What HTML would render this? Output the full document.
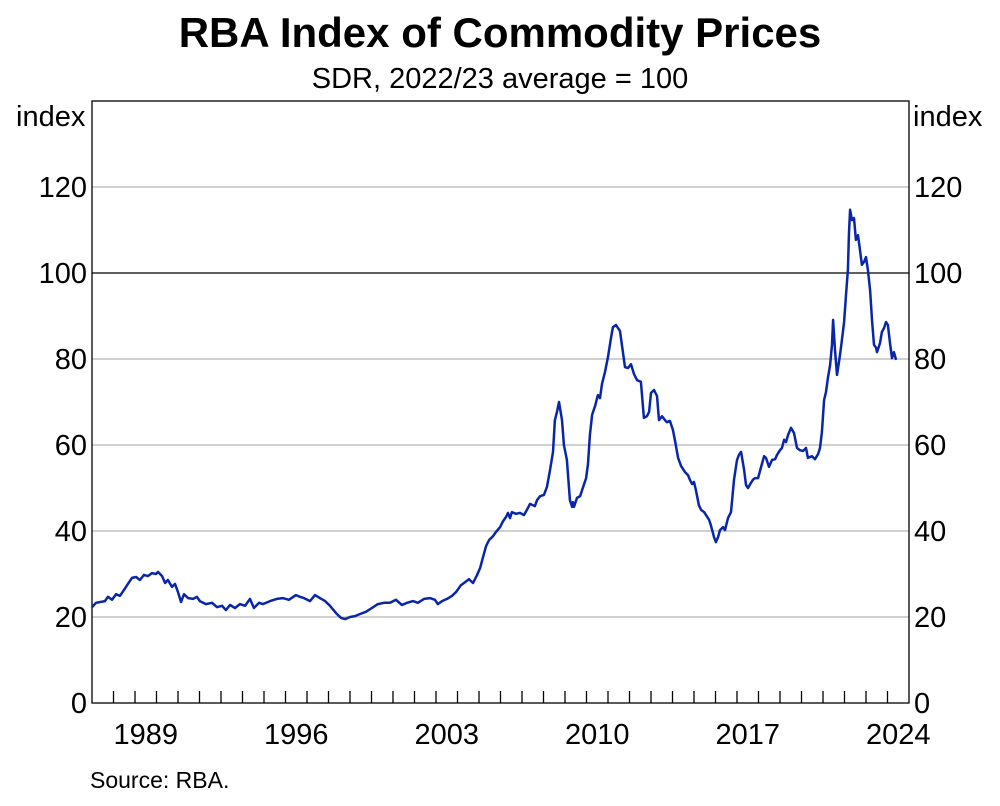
<!DOCTYPE html>
<html><head><meta charset="utf-8"><style>
body{margin:0;background:#fff;}
svg text{font-family:"Liberation Sans",Arial,sans-serif;fill:#000;}
</style></head><body>
<svg id="chart" width="1000" height="801" viewBox="0 0 1000 801" xmlns="http://www.w3.org/2000/svg">
<text x="500" y="47" text-anchor="middle" font-size="42" font-weight="bold">RBA Index of Commodity Prices</text>
<text x="500" y="88" text-anchor="middle" font-size="29">SDR, 2022/23 average = 100</text>
<text x="16" y="126" font-size="29">index</text>
<text x="913" y="126" font-size="29">index</text>
<text x="90" y="788" font-size="23">Source: RBA.</text>
<g id="grid"></g>
<g id="ticks"></g>
<path id="line" fill="none" stroke="#0a26a8" stroke-width="2.5" stroke-linejoin="round"/>
</svg>
<script>
const yTicks=[0,20,40,60,80,100,120];
const xLabels=[1989,1996,2003,2010,2017,2024];
const dates=[1987.00,1987.19,1987.60,1987.74,1987.93,1988.12,1988.30,1988.49,1988.67,1988.86,1989.05,1989.23,1989.42,1989.60,1989.79,1989.98,1990.07,1990.26,1990.40,1990.53,1990.72,1990.86,1991.00,1991.14,1991.28,1991.47,1991.70,1991.88,1992.02,1992.30,1992.58,1992.81,1993.05,1993.23,1993.42,1993.65,1993.88,1994.12,1994.35,1994.53,1994.77,1994.95,1995.28,1995.60,1995.88,1996.16,1996.49,1996.67,1996.86,1997.14,1997.37,1997.60,1997.84,1998.07,1998.35,1998.58,1998.77,1999.00,1999.23,1999.47,1999.74,2000.02,2000.30,2000.58,2000.86,2001.14,2001.42,2001.65,2001.93,2002.16,2002.44,2002.72,2002.95,2003.09,2003.28,2003.51,2003.74,2003.93,2004.16,2004.35,2004.53,2004.72,2004.91,2005.05,2005.19,2005.33,2005.47,2005.65,2005.79,2005.98,2006.12,2006.26,2006.35,2006.44,2006.53,2006.72,2006.91,2007.09,2007.23,2007.37,2007.60,2007.70,2007.84,2008.02,2008.16,2008.30,2008.44,2008.53,2008.63,2008.72,2008.86,2008.95,2009.09,2009.23,2009.33,2009.37,2009.42,2009.56,2009.70,2009.84,2009.98,2010.07,2010.16,2010.26,2010.40,2010.53,2010.63,2010.72,2010.86,2011.00,2011.14,2011.23,2011.37,2011.56,2011.79,2011.93,2012.07,2012.21,2012.35,2012.53,2012.67,2012.81,2012.91,2013.00,2013.14,2013.28,2013.37,2013.51,2013.65,2013.74,2013.88,2014.02,2014.12,2014.26,2014.40,2014.58,2014.72,2014.81,2014.91,2015.00,2015.09,2015.23,2015.33,2015.47,2015.56,2015.70,2015.79,2015.93,2016.02,2016.12,2016.21,2016.35,2016.44,2016.58,2016.72,2016.86,2017.00,2017.09,2017.19,2017.33,2017.42,2017.51,2017.65,2017.74,2017.84,2017.98,2018.12,2018.26,2018.35,2018.49,2018.63,2018.77,2018.86,2019.00,2019.09,2019.19,2019.28,2019.37,2019.51,2019.65,2019.79,2019.93,2020.07,2020.21,2020.30,2020.49,2020.63,2020.77,2020.86,2020.95,2021.05,2021.14,2021.23,2021.33,2021.42,2021.47,2021.56,2021.65,2021.79,2021.88,2021.98,2022.07,2022.16,2022.21,2022.26,2022.35,2022.44,2022.53,2022.63,2022.72,2022.81,2022.91,2023.00,2023.09,2023.19,2023.28,2023.37,2023.47,2023.51,2023.65,2023.74,2023.84,2023.93,2024.02,2024.12,2024.21,2024.30,2024.40];
const values=[22.3,23.3,23.7,24.7,24.0,25.3,24.9,26.3,27.7,29.1,29.3,28.6,29.8,29.5,30.2,30.0,30.5,29.5,27.9,28.6,27.0,27.7,25.8,23.5,25.3,24.4,24.2,24.7,23.7,23.0,23.3,22.3,22.6,21.6,22.8,22.1,23.0,22.6,24.2,22.1,23.3,23.0,23.7,24.2,24.4,24.0,25.1,24.7,24.4,23.7,25.1,24.4,23.7,22.6,20.9,19.8,19.5,20.0,20.2,20.7,21.2,22.1,23.0,23.3,23.3,24.0,22.8,23.3,23.7,23.3,24.2,24.4,24.0,23.0,23.7,24.2,24.9,25.8,27.4,28.1,28.8,27.9,29.8,31.4,34.0,36.5,37.9,38.8,39.8,40.9,42.3,43.3,44.2,43.0,44.4,44.0,44.2,43.7,44.9,46.3,45.8,47.2,48.1,48.4,50.2,54.0,58.4,65.8,67.7,70.0,65.8,60.0,56.5,47.2,45.6,46.7,45.6,47.7,48.1,50.2,52.3,55.6,62.3,67.0,69.1,71.6,70.9,74.2,77.0,80.5,84.9,87.4,87.9,86.5,78.1,77.9,78.8,76.5,75.1,74.7,66.3,66.7,67.7,72.1,72.8,71.4,65.8,66.7,65.8,65.3,65.6,63.5,60.9,57.0,55.1,53.7,53.0,51.9,50.9,51.4,49.5,46.0,44.9,44.4,43.7,42.6,41.2,38.6,37.4,38.6,40.2,40.9,40.2,43.0,44.4,51.9,56.5,57.7,58.4,54.2,50.7,50.0,51.2,51.9,52.3,52.3,54.9,57.4,57.0,54.9,56.5,56.7,57.7,58.8,59.3,61.2,60.7,62.3,64.0,62.8,59.3,58.8,58.6,59.3,57.0,57.4,56.7,57.9,59.3,63.0,70.5,72.3,75.6,78.6,83.3,89.1,82.1,76.3,80.9,84.4,88.6,94.9,100.7,109.5,114.7,112.3,112.8,107.7,108.8,105.3,101.9,102.6,103.7,100.7,96.0,89.1,83.3,82.6,81.6,83.7,86.3,87.2,88.6,87.9,83.5,80.2,81.6,79.8];
const L=92,R=909,T=101,B=703,X0=1987,X1=2025,YMAX=140;
const sx=d=>L+(d-X0)/(X1-X0)*(R-L);
const sy=v=>B-v/YMAX*(B-T);
const NS='http://www.w3.org/2000/svg';
function mk(tag,attrs,parent){const e=document.createElementNS(NS,tag);for(const k in attrs)e.setAttribute(k,attrs[k]);parent.appendChild(e);return e;}
const grid=document.getElementById('grid'),ticks=document.getElementById('ticks'),svg=document.getElementById('chart');
yTicks.forEach(v=>{
  if(v>0){const g=mk('line',{x1:L,x2:R,y1:sy(v),y2:sy(v),stroke:v===100?'#000':'#b4b4b4','stroke-width':v===100?1.3:1.2},grid);
  
  }
  const t1=mk('text',{x:L-5,y:sy(v)+10,'text-anchor':'end','font-size':29},svg);t1.textContent=v;
  
  
  const t2=mk('text',{x:R+5,y:sy(v)+10,'font-size':29},svg);t2.textContent=v;
  
  
});
mk('rect',{x:L,y:T,width:R-L,height:B-T,fill:'none',stroke:'#000','stroke-width':1.3},ticks);
for(let y=X0+1;y<X1;y++){const tk=mk('line',{x1:sx(y),x2:sx(y),y1:B,y2:B-12,stroke:'#000','stroke-width':1.3},ticks);
  
  }
xLabels.forEach(y=>{const t=mk('text',{x:sx(y+0.5),y:B+41,'text-anchor':'middle','font-size':29},svg);t.textContent=y;
  
  });
document.getElementById('line').setAttribute('d',dates.map((d,i)=>(i?'L':'M')+sx(d).toFixed(1)+','+sy(values[i]).toFixed(1)).join(''));
</script>
</body></html>
